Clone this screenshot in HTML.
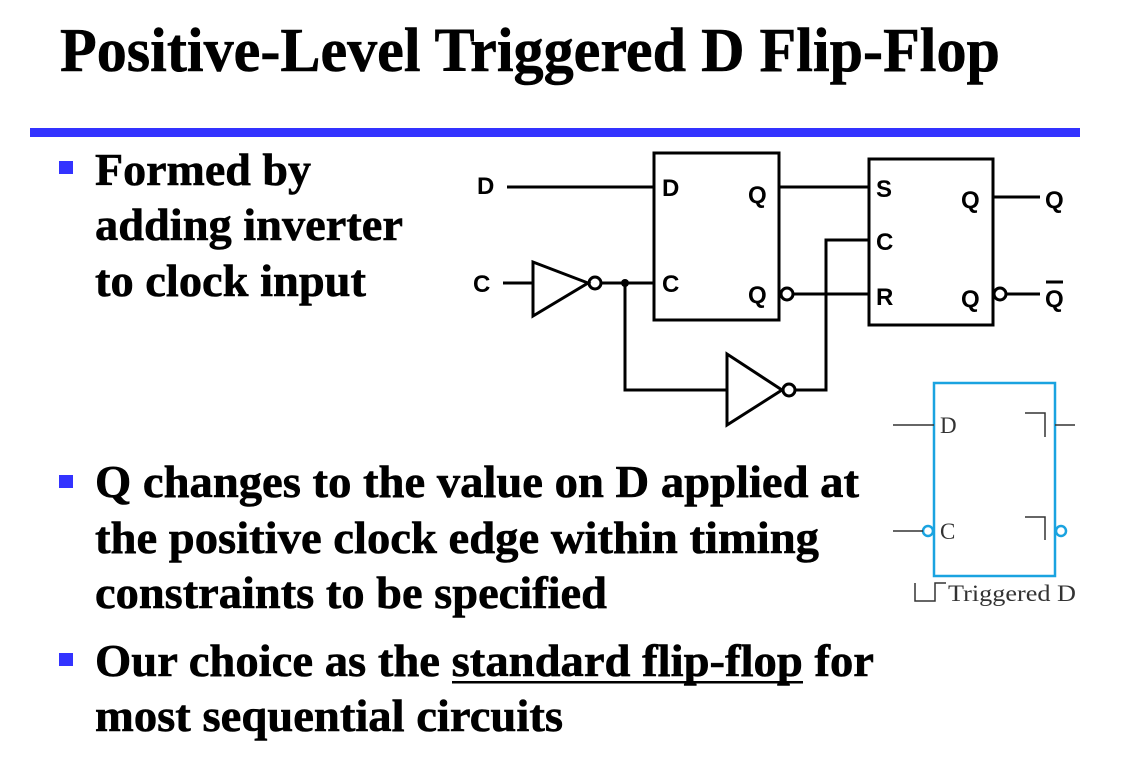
<!DOCTYPE html>
<html><head><meta charset="utf-8"><style>
html,body{margin:0;padding:0;background:#fff;}
svg{display:block;}
.t{font-family:"Liberation Serif",serif;font-weight:bold;fill:#000;stroke:#000;stroke-width:0.6;}
.a{font-family:"Liberation Sans",sans-serif;font-weight:bold;fill:#000;font-size:24px;}
.s{font-family:"Liberation Serif",serif;fill:#333;font-size:23px;}
</style></head><body>
<svg width="1126" height="761" viewBox="0 0 1126 761" xmlns="http://www.w3.org/2000/svg">
<text class="t" x="60" y="71" font-size="62" textLength="940" lengthAdjust="spacingAndGlyphs">Positive-Level Triggered D Flip-Flop</text>
<rect x="30" y="128" width="1050" height="9" fill="#3333ff"/>
<rect x="59" y="161" width="14" height="13" fill="#3333ff"/>
<rect x="59" y="475" width="14" height="13" fill="#3333ff"/>
<rect x="59" y="653" width="14" height="13" fill="#3333ff"/>
<g class="t" font-size="46">
<text x="95" y="185" textLength="216" lengthAdjust="spacingAndGlyphs">Formed by</text>
<text x="95" y="240" textLength="308" lengthAdjust="spacingAndGlyphs">adding inverter</text>
<text x="95" y="296" textLength="271" lengthAdjust="spacingAndGlyphs">to clock input</text>
<text x="95" y="497" textLength="764" lengthAdjust="spacingAndGlyphs">Q changes to the value on D applied at</text>
<text x="95" y="553" textLength="724" lengthAdjust="spacingAndGlyphs">the positive clock edge within timing</text>
<text x="95" y="608" textLength="512" lengthAdjust="spacingAndGlyphs">constraints to be specified</text>
<text x="95" y="676" textLength="779" lengthAdjust="spacingAndGlyphs">Our choice as the standard flip-flop for</text>
<text x="95" y="731" textLength="468" lengthAdjust="spacingAndGlyphs">most sequential circuits</text>
</g>
<rect x="452" y="681" width="351" height="2.5" fill="#000"/>
<!-- circuit -->
<g stroke="#000" stroke-width="3" fill="none">
<rect x="654" y="153" width="125" height="167"/>
<rect x="869" y="159" width="124" height="166"/>
<line x1="507" y1="187" x2="654" y2="187"/>
<line x1="779" y1="187" x2="869" y2="187"/>
<line x1="993" y1="197" x2="1040" y2="197"/>
<line x1="1006" y1="294" x2="1040" y2="294"/>
<line x1="793" y1="294" x2="869" y2="294"/>
<polyline points="869,240 826,240 826,390 795,390"/>
<line x1="503" y1="283" x2="533" y2="283"/>
<polygon points="533,262 533,316 588,283"/>
<circle cx="595" cy="283" r="6"/>
<line x1="601" y1="283" x2="654" y2="283"/>
<polyline points="625,283 625,390 727,390"/>
<polygon points="727,354 727,425 782,390"/>
<circle cx="789" cy="390" r="6"/>
<circle cx="787" cy="294" r="6"/>
<circle cx="1000" cy="294" r="6"/>
</g>
<circle cx="625" cy="283" r="4" fill="#000"/>
<text class="a" x="477" y="194">D</text>
<text class="a" x="473" y="292">C</text>
<text class="a" x="662" y="196">D</text>
<text class="a" x="662" y="292">C</text>
<text class="a" x="748" y="203">Q</text>
<text class="a" x="748" y="303">Q</text>
<text class="a" x="876" y="197">S</text>
<text class="a" x="876" y="250">C</text>
<text class="a" x="876" y="305">R</text>
<text class="a" x="961" y="208">Q</text>
<text class="a" x="961" y="307">Q</text>
<text class="a" x="1045" y="208">Q</text>
<text class="a" x="1045" y="307">Q</text>
<line x1="1046" y1="282" x2="1063" y2="282" stroke="#000" stroke-width="3"/>
<!-- small symbol -->
<g stroke="#1aa3e0" stroke-width="2.5" fill="none">
<rect x="934" y="383" width="121" height="193"/>
<circle cx="928" cy="531" r="5"/>
<circle cx="1061" cy="531" r="5"/>
</g>
<g stroke="#333" stroke-width="1.5" fill="none">
<line x1="893" y1="425" x2="934" y2="425"/>
<line x1="1055" y1="425" x2="1075" y2="425"/>
<line x1="893" y1="531" x2="923" y2="531"/>
<polyline points="1025,413 1045,413 1045,437"/>
<polyline points="1025,517 1045,517 1045,540"/>
<polyline points="915,583 915,601 935,601 935,583 946,583"/>
</g>
<text class="s" x="940" y="433">D</text>
<text class="s" x="940" y="539">C</text>
<text class="s" x="948" y="601" textLength="128" lengthAdjust="spacingAndGlyphs">Triggered D</text>
</svg>
</body></html>
